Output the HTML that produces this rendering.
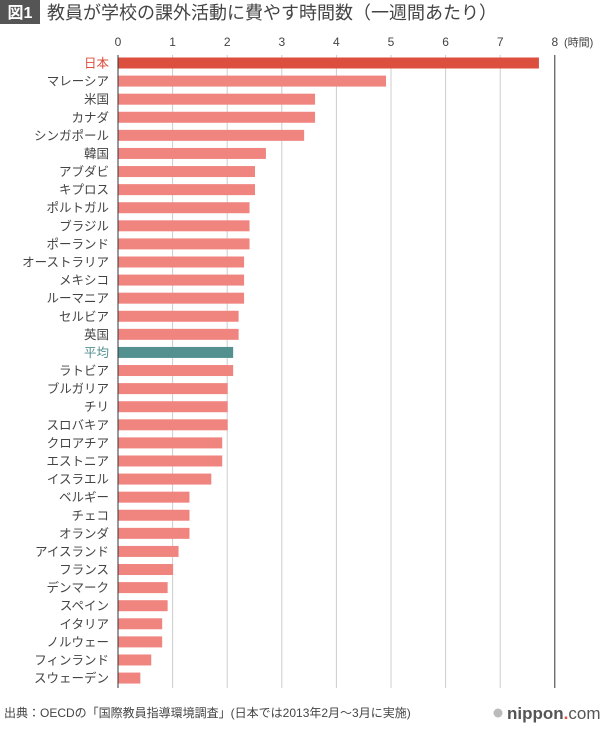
<!DOCTYPE html>
<html><head><meta charset="utf-8"><style>
body{margin:0;background:#fff;width:600px;height:726px;overflow:hidden}
svg text{font-family:"Liberation Sans","Noto Sans CJK JP",sans-serif}
</style></head><body>
<svg width="600" height="726" xmlns="http://www.w3.org/2000/svg">
<rect x="0" y="0" width="40" height="24" fill="#555"/>
<text x="20" y="18" font-size="16" fill="#fff" text-anchor="middle" font-weight="bold">図1</text>
<text x="47" y="19" font-size="18" fill="#444">教員が学校の課外活動に費やす時間数（一週間あたり）</text>
<g id="g"></g>
<text x="4" y="717" font-size="12" fill="#444">出典：OECDの「国際教員指導環境調査」(日本では2013年2月～3月に実施)</text>
<circle cx="498" cy="713" r="4.5" fill="#bbb"/>
<text x="507" y="719" font-size="17" fill="#555" font-weight="bold">nippon<tspan fill="#e05040">.</tspan><tspan font-weight="normal">com</tspan></text>
</svg>
<script>
var d=[["日本",7.7],["マレーシア",4.9],["米国",3.6],["カナダ",3.6],["シンガポール",3.4],["韓国",2.7],["アブダビ",2.5],["キプロス",2.5],["ポルトガル",2.4],["ブラジル",2.4],["ポーランド",2.4],["オーストラリア",2.3],["メキシコ",2.3],["ルーマニア",2.3],["セルビア",2.2],["英国",2.2],["平均",2.1],["ラトビア",2.1],["ブルガリア",2.0],["チリ",2.0],["スロバキア",2.0],["クロアチア",1.9],["エストニア",1.9],["イスラエル",1.7],["ベルギー",1.3],["チェコ",1.3],["オランダ",1.3],["アイスランド",1.1],["フランス",1.0],["デンマーク",0.9],["スペイン",0.9],["イタリア",0.8],["ノルウェー",0.8],["フィンランド",0.6],["スウェーデン",0.4]];
var x0=118,s=54.6,y0=63,st=18.09,h='';
for(var i=0;i<=8;i++){var x=x0+i*s;
h+='<line x1="'+x+'" y1="55" x2="'+x+'" y2="688" stroke="'+(i==0||i==8?'#333':'#ccc')+'" stroke-width="1"/>';
h+='<text x="'+x+'" y="46" font-size="12" fill="#444" text-anchor="middle">'+i+'</text>';}
h+='<text x="564" y="46" font-size="11" fill="#444">(時間)</text>';
d.forEach(function(r,i){var y=y0+i*st;var c=i==0?'#dc4f3e':(r[0]=='平均'?'#52918f':'#f08580');
var tc=i==0?'#dc4f3e':(r[0]=='平均'?'#52918f':'#444');
h+='<rect x="'+(x0+0.5)+'" y="'+(y-5.5)+'" width="'+(r[1]*s)+'" height="11" fill="'+c+'"/>';
h+='<text x="109" y="'+(y+4.5)+'" font-size="12.5" fill="'+tc+'" text-anchor="end">'+r[0]+'</text>';});
document.getElementById('g').innerHTML=h;
</script>
</body></html>
